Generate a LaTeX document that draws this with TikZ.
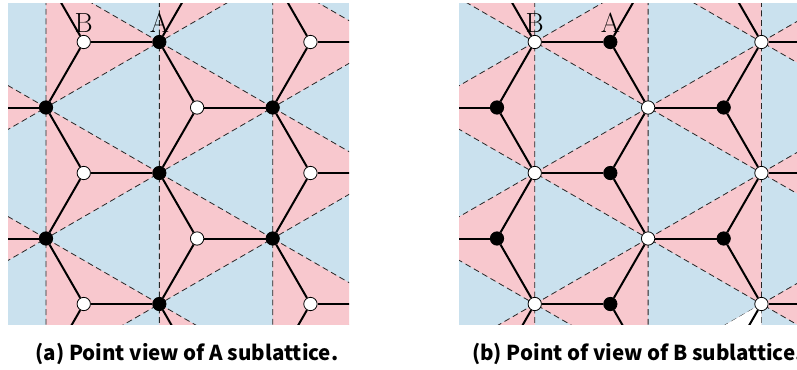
\documentclass[tikz,border=0pt]{standalone}
\usepackage{fontspec}
\usepackage{tikz}
\usetikzlibrary{backgrounds,positioning}
\usepackage{xcolor}
\newfontfamily\captionfont{Noto Sans CJK SC}
\definecolor{cellblue}{HTML}{CAE1EE}
\definecolor{cellpink}{HTML}{F8C8CE}
\tikzset{asite/.style={circle,draw=black,fill=black,line width=.6pt,minimum size=10pt,inner sep=0pt},bsite/.style={circle,draw=black,fill=white,line width=.6pt,minimum size=10pt,inner sep=0pt},bond/.style={draw=black,line width=1.5pt},celledge/.style={draw=black!85,line width=.6pt,dash pattern=on 4.4pt off 2.8pt},pinkcell/.style={celledge,fill=cellpink},sitelabel/.style={font=\huge,inner sep=0pt},figcaption/.style={font=\captionfont\bfseries\fontsize{15.4}{18}\selectfont,inner sep=0pt,anchor=base west}}
\newcommand{\honeycomb}{%
\foreach \i in {-1,...,6}\foreach \j in {-1,...,8}{\pgfmathtruncatemacro\cellsum{\i+\j}\ifodd\cellsum
\node[asite] (A-\i-\j) at ({-67.35+113.35*\i},{-23.5+65.5*\j}) {};
\node[bsite] (B-\i-\j) at ({-142.95+113.35*\i},{-23.5+65.5*\j}) {};
\fi}
\foreach \i in {0,...,5}\foreach \j in {0,...,7}{\pgfmathtruncatemacro\cellsum{\i+\j}\ifodd\cellsum
\pgfmathtruncatemacro\ii{\i+1}\pgfmathtruncatemacro\ju{\j-1}\pgfmathtruncatemacro\jd{\j+1}
\draw[bond] (A-\i-\j)--(B-\i-\j);
\draw[bond] (A-\i-\j)--(B-\ii-\ju);
\draw[bond] (A-\i-\j)--(B-\ii-\jd);
\fi}}
\begin{document}
\begin{tikzpicture}[x=.75pt,y=-.75pt]
\useasboundingbox (0,0) rectangle (797,369);
\begin{scope}[name prefix=L-]
\begin{scope}
\clip (8,3.3) rectangle (349,324.7);
\honeycomb
\end{scope}
\begin{scope}[on background layer]
\begin{scope}
\clip (8,3.3) rectangle (349,324.7);
\fill[cellblue] (8,3.3) rectangle (349,324.7);
\foreach \i in {0,...,5}\foreach \j in {0,...,7}{\pgfmathtruncatemacro\cellsum{\i+\j}\ifodd\cellsum
\pgfmathtruncatemacro\il{\i-1}\pgfmathtruncatemacro\ju{\j-1}\pgfmathtruncatemacro\jd{\j+1}
\path[pinkcell] (A-\i-\j.center)--(A-\il-\ju.center)--(A-\il-\jd.center)--cycle;
\fi}
\end{scope}
\end{scope}
\node[sitelabel,above=2pt of L-A-2-1] (L-labelA) {A};
\node[sitelabel,above=2pt of L-B-2-1] (L-labelB) {B};
\end{scope}
\begin{scope}[shift={(451,0)},name prefix=R-]
\begin{scope}
\clip (8,3.3) rectangle (349,324.7);
\honeycomb
\end{scope}
\begin{scope}[on background layer]
\begin{scope}
\clip (8,3.3) rectangle (349,324.7);
\fill[cellblue] (8,3.3) rectangle (349,324.7);
\foreach \i in {0,...,5}\foreach \j in {0,...,7}{\pgfmathtruncatemacro\cellsum{\i+\j}\ifodd\cellsum
\pgfmathtruncatemacro\ii{\i+1}\pgfmathtruncatemacro\ju{\j-1}\pgfmathtruncatemacro\jd{\j+1}
\path[pinkcell] (B-\i-\j.center)--(B-\ii-\ju.center)--(B-\ii-\jd.center)--cycle;
\fi}
\fill[white] (B-4-5.center)--(B-3-6.center)--(B-4-7.center)--cycle;
\end{scope}
\end{scope}
\node[sitelabel,above=2pt of R-A-2-1] (R-labelA) {A};
\node[sitelabel,above=2pt of R-B-2-1] (R-labelB) {B};
\end{scope}
\node[figcaption] (captionA) at (35.2,360.3) {(a) Point view of A sublattice.};
\node[figcaption] (captionB) at (471.8,360.3) {(b) Point of view of B sublattice.};
\end{tikzpicture}
\end{document}
